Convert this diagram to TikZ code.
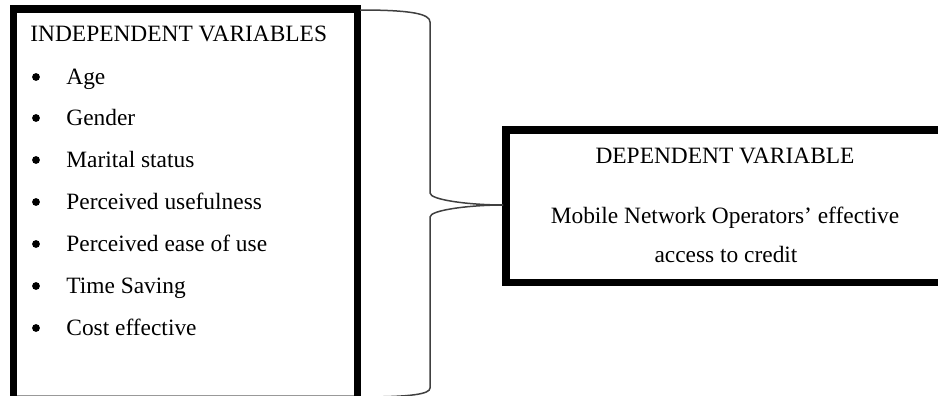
\documentclass[tikz,border=0pt]{standalone}
\usepackage{fontspec}
\setmainfont{Liberation Serif}
\tikzset{
  heavy/.style={line width=3.6pt},
  braceline/.style={line width=0.75pt,black!75},
  itemtext/.style={anchor=base west,inner sep=0pt},
  bulletdot/.style={circle,fill=black,inner sep=0pt,minimum size=3.9pt},
  centertext/.style={anchor=base,inner sep=0pt},
}
\begin{document}
\begin{tikzpicture}[x=0.5pt,y=-0.5pt,font=\fontsize{11.7}{14}\selectfont]
\clip (0,0) rectangle (938,396);
% independent variables box (cut off at the bottom)
\draw [heavy] (13.5,397) -- (13.5,9) -- (357.5,9) -- (357.5,397);
\draw [black!40,line width=0.5pt] (17,395) -- (354,395);
\node [itemtext] (ivhead) at (30,41) {INDEPENDENT VARIABLES};
\foreach \y/\txt [count=\i] in {84/Age,125/Gender,167/Marital status,209/Perceived usefulness,251/Perceived ease of use,293/Time Saving,335/Cost effective}{
  \node [bulletdot] (dot\i) at (36,\y-7) {};
  \node [itemtext] (iv\i) at (66,\y) {\txt};
}
% dependent variable box (runs off the right edge)
\draw [heavy] (945,130) -- (506,130) -- (506,282.5) -- (945,282.5);
\node [centertext] (dvhead) at (725,163) {DEPENDENT VARIABLE};
\node [centertext] (dv1) at (725,223) {Mobile Network Operators’ effective};
\node [centertext] (dv2) at (726,262) {access to credit};
% brace
\coordinate (bracetop) at (360,10);
\coordinate (bracebot) at (360,397);
\coordinate (tip) at (503,205);
\draw [braceline] (bracetop) .. controls (412,10) and (430,14) .. (430,22) -- (430,193)
  .. controls (430,200) and (470,205) .. (tip);
\draw [braceline] (tip) .. controls (470,205) and (430,210) .. (430,217) -- (430,388)
  .. controls (430,394) and (412,397) .. (bracebot);
\end{tikzpicture}
\end{document}
